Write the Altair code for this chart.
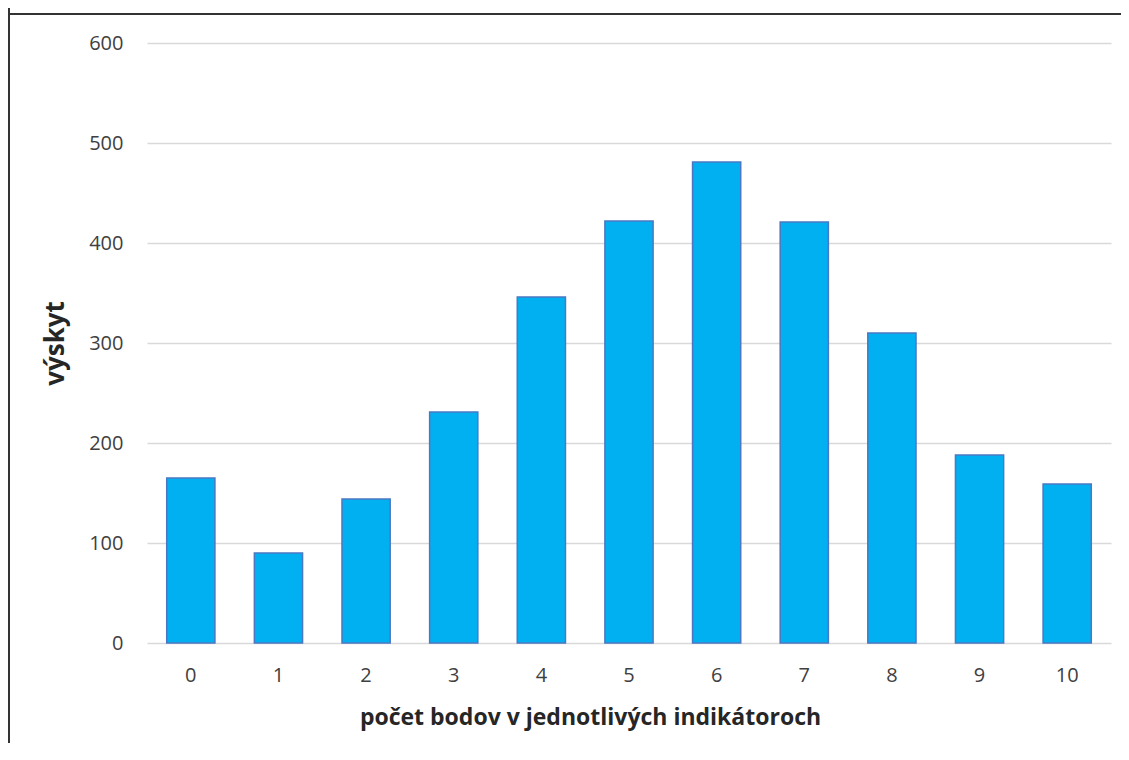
import altair as alt
import pandas as pd

categories = ["0", "1", "2", "3", "4", "5", "6", "7", "8", "9", "10"]
values = [165, 90, 144, 231, 346, 422, 481, 421, 310, 188, 159]
y_ticks = [0, 100, 200, 300, 400, 500, 600]

x_title = "počet bodov v jednotlivých indikátoroch"
y_title = "výskyt"

df = pd.DataFrame({"kat": categories, "val": values})

W, H = 964, 600
PAD = {"left": 139, "top": 35, "right": 10, "bottom": 100}

bars = alt.Chart(df).mark_bar(
    color="#00B0F0", stroke="#4A78C2", strokeWidth=1.5
).encode(
    x=alt.X(
        "kat:N",
        sort=categories,
        scale=alt.Scale(paddingInner=0.45, paddingOuter=0.225),
        axis=alt.Axis(
            title=x_title,
            labelAngle=0,
            labelFont="Open Sans",
            labelFontSize=20,
            labelColor="#404040",
            labelPadding=22,
            ticks=False,
            tickSize=0,
            domain=False,
            titleFont="Open Sans",
            titleFontSize=23,
            titleFontWeight="bold",
            titleColor="#262626",
            titleAlign="center",
            titleBaseline="alphabetic",
            titleX=443,
            titleY=81,
        ),
    ),
    y=alt.Y(
        "val:Q",
        scale=alt.Scale(domain=[0, 600], nice=False),
        axis=alt.Axis(
            title=y_title,
            values=y_ticks,
            labelFont="Open Sans",
            labelFontSize=20,
            labelColor="#404040",
            labelPadding=24,
            ticks=False,
            tickSize=0,
            domain=False,
            grid=True,
            gridColor="#D9D9D9",
            gridWidth=1.5,
            titleFont="Open Sans",
            titleFontSize=26,
            titleFontWeight="bold",
            titleColor="#262626",
            titleAngle=270,
            titleAlign="center",
            titleBaseline="alphabetic",
            titleX=-84,
            titleY=300,
        ),
    ),
)

frame_df = pd.DataFrame({"a": [0]})
top_line = alt.Chart(frame_df).mark_rule(color="#333333", strokeWidth=2).encode(
    x=alt.value(-PAD["left"]),
    x2=alt.value(W + PAD["right"]),
    y=alt.value(-29),
)
left_line = alt.Chart(frame_df).mark_rule(color="#333333", strokeWidth=2).encode(
    x=alt.value(-138),
    y=alt.value(-PAD["top"]),
    y2=alt.value(H + PAD["bottom"]),
)

chart = alt.layer(bars, top_line, left_line).properties(
    width=W,
    height=H,
    autosize=alt.AutoSizeParams(type="none"),
    padding=PAD,
    background="white",
).configure_view(stroke=None)

chart.save("out.html", embed_options={"renderer": "svg", "actions": False})
